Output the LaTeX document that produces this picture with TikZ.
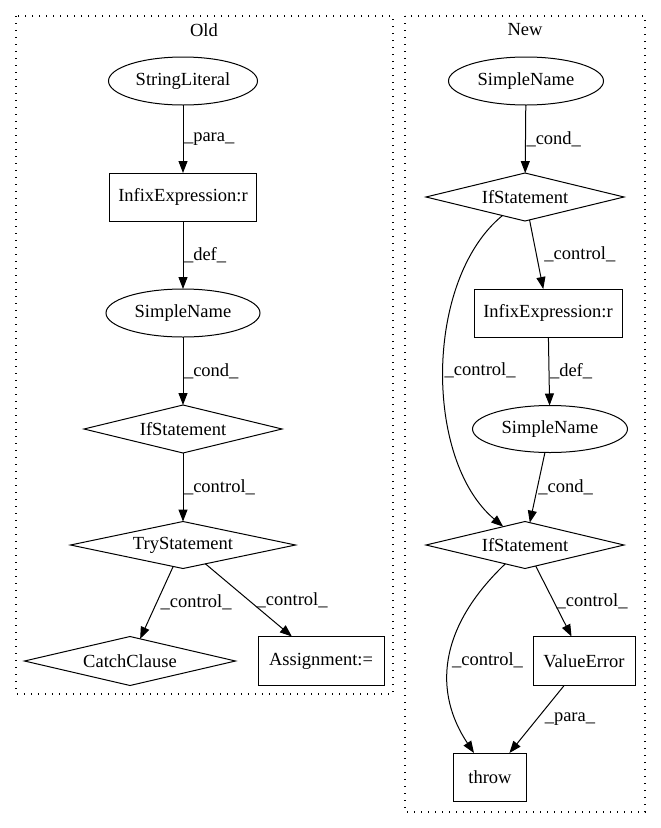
\documentclass[tikz,border=0pt]{standalone}
\usepackage{fontspec}
\setmainfont{Liberation Serif}
\usetikzlibrary{arrows.meta, shapes.geometric}

\begin{document}
\begin{tikzpicture}[->, >={Triangle[length=12pt,width=9pt]},
			x=1pt, y=-1pt, line width=1pt,
			every node/.style={font=\fontsize{18.5}{21}\selectfont, inner sep=0pt, outer sep=0pt},
			oval/.style={ellipse, draw, minimum height=48pt},
			box/.style={rectangle, draw, minimum height=48pt},
			cnd/.style={diamond, draw, shape aspect=4, minimum height=48pt},
			lbl/.style={right, inner sep=1pt},
			cluster/.style={-, line width=1.3pt, dash pattern=on 1.3pt off 5.7pt}]
			
			\useasboundingbox (0,0) rectangle (661,828);
			
			% Riquadri dei due gruppi
			\draw[cluster] (16,16) rectangle (393,694);
			\draw[cluster] (405,16) rectangle (645,812);
			\node (old) at (204,30) {Old};
			\node (new) at (525,30) {New};
			
			% --- Old ---
			\node[oval, minimum width=149pt] (sl) at (183,81) {StringLiteral};
			\node[box, minimum width=147pt] (ie) at (183,197) {InfixExpression:r};
			\node[oval, minimum width=154pt] (sn) at (183,313) {SimpleName};
			\node[cnd, minimum width=198pt] (if) at (183,429) {IfStatement};
			\node[cnd, minimum width=225pt, minimum height=47pt] (try) at (183,545) {TryStatement};
			\node[cnd, minimum width=211pt, minimum height=49pt] (cc) at (130,661) {CatchClause};
			\node[box, minimum width=126pt, minimum height=49pt] (as) at (321,661) {Assignment:=};
			
			\draw (sl) edge node[lbl]{\_para\_} (ie);
			\draw (ie) edge node[lbl]{\_def\_} (sn);
			\draw (sn) edge node[lbl]{\_cond\_} (if);
			\draw (if) edge node[lbl]{\_control\_} (try);
			\draw (try) edge node[lbl, xshift=3pt]{\_control\_} (cc);
			\draw (try) edge node[lbl, xshift=7pt]{\_control\_} (as);
			
			% --- New ---
			\node[oval, minimum width=155pt] (nsn) at (526,81) {SimpleName};
			\node[cnd, minimum width=198pt] (nif) at (525,197) {IfStatement};
			\node[box, minimum width=148pt] (nie) at (548,313) {InfixExpression:r};
			\node[oval, minimum width=155pt, minimum height=47pt] (nsn2) at (550,429) {SimpleName};
			\node[cnd, minimum width=198pt, minimum height=47pt] (nif2) at (525,545) {IfStatement};
			\node[box, minimum width=102pt, minimum height=49pt] (ve) at (584,661) {ValueError};
			\node[box, minimum width=73pt] (th) at (490,777) {throw};
			
			\coordinate (c1) at (424,280);
			\coordinate (c2) at (424,460);
			\coordinate (c3) at (437,629);
			\coordinate (c4) at (434,693);
			
			\draw (nsn) edge node[lbl]{\_cond\_} (nif);
			\draw (nif) edge node[lbl, xshift=7pt]{\_control\_} (nie);
			\draw (nif) .. controls (c1) and (c2) .. (nif2) node[lbl, pos=0.5]{\_control\_};
			\draw (nie) edge node[lbl]{\_def\_} (nsn2);
			\draw (nsn2) edge node[lbl]{\_cond\_} (nif2);
			\draw (nif2) edge node[lbl, xshift=2pt]{\_control\_} (ve);
			\draw (nif2) .. controls (c3) and (c4) .. (th) node[lbl, pos=0.5, xshift=2pt]{\_control\_};
			\draw (ve) edge node[lbl, xshift=7pt]{\_para\_} (th);
			
		\end{tikzpicture}
\end{document}
